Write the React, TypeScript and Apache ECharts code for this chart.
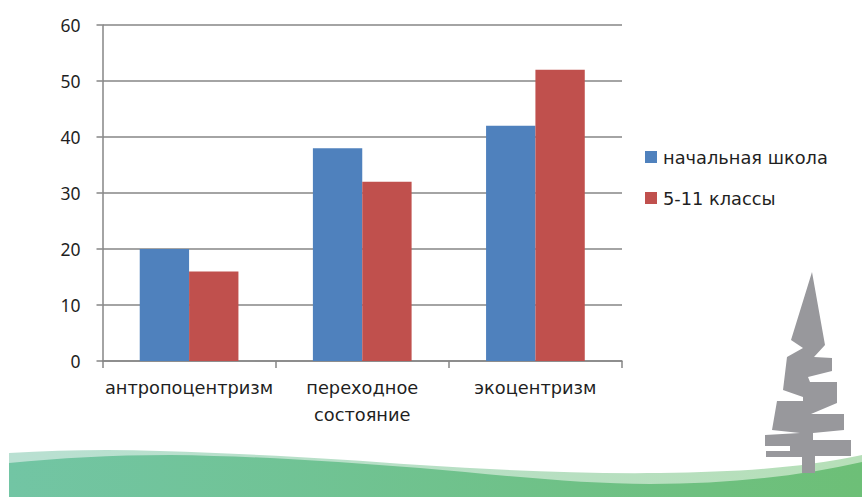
import React, { useEffect, useRef } from "react";
import * as echarts from "echarts";

const categories = ["антропоцентризм", "переходное\nсостояние", "экоцентризм"];
const primarySchool = [20, 38, 42];
const grades511 = [16, 32, 52];
const seriesNames = ["начальная школа", "5-11 классы"];

const FONT = "'DejaVu Sans', sans-serif";
const NUM_FONT = "'Noto Sans', sans-serif";
const TEXT = "#1f1f1f";
const AXIS = "#868686";

const WAVE_LIGHT =
  "M9 453 C60 450 110 449 160 451 C260 454 340 459 420 465 C500 470 580 474 660 473 C740 472 800 468 862 455 L862 497 L9 497 Z";
const WAVE_DARK =
  "M9 463 C60 458 110 455 170 455 C260 456 340 462 420 468 C500 475 580 484 650 484 C730 484 800 476 862 462 L862 497 L9 497 Z";
const TREE =
  "M812 272 L825 345 L814 357 L832 358 L832 371 L808 377 L810 382 L837 382 L837 403 L811 414 L844 414 L844 430 L813 433 L813 440 L851 440 L851 456 L815 456 L815 473 L802 473 L802 457 L766 457 L766 451 L790 451 L790 446 L765 446 L765 435 L800 433 L772 430 L777 401 L803 401 L803 397 L783 390 L787 357 L803 348 L791 340 Z";

echarts.graphic.registerShape("waveLight", echarts.graphic.extendPath(WAVE_LIGHT, {}));
echarts.graphic.registerShape("waveDark", echarts.graphic.extendPath(WAVE_DARK, {}));
echarts.graphic.registerShape("tree", echarts.graphic.extendPath(TREE, {}));

export default function App() {
  const ref = useRef<HTMLDivElement>(null);
  useEffect(() => {
    const chart = echarts.init(ref.current!, undefined, { renderer: "svg" });
    const hGrad = (a: string, b: string) =>
      new echarts.graphic.LinearGradient(0, 0, 1, 0, [
        { offset: 0, color: a },
        { offset: 1, color: b },
      ]);
    chart.setOption({
      animation: false,
      backgroundColor: "#ffffff",
      grid: { left: 102.5, top: 25, width: 519.5, height: 336, containLabel: false },
      legend: {
        orient: "vertical",
        left: 640,
        top: 143,
        itemWidth: 12,
        itemHeight: 12,
        itemGap: 23,
        itemStyle: { borderWidth: 0 },
        icon: "rect",
        textStyle: { fontFamily: FONT, fontSize: 17.8, color: TEXT, padding: [0, 0, 0, 1] },
        data: seriesNames,
      },
      xAxis: {
        type: "category",
        data: categories,
        axisLine: { lineStyle: { color: AXIS, width: 1.5 } },
        axisTick: { show: true, length: 7, lineStyle: { color: AXIS, width: 1.5 } },
        axisLabel: { fontFamily: FONT, fontSize: 17.8, color: TEXT, margin: 13, lineHeight: 27, interval: 0 },
      },
      yAxis: {
        type: "value",
        min: 0,
        max: 60,
        interval: 10,
        axisLine: { show: true, lineStyle: { color: AXIS, width: 1.5 } },
        axisTick: { show: true, length: 6, lineStyle: { color: AXIS, width: 1.5 } },
        splitLine: { lineStyle: { color: AXIS, width: 1.5 } },
        axisLabel: { fontFamily: NUM_FONT, fontSize: 17.5, color: TEXT, margin: 22 },
      },
      series: [
        {
          name: seriesNames[0],
          type: "bar",
          data: primarySchool,
          barGap: "0%",
          barCategoryGap: "43%",
          itemStyle: { color: "#4f81bd" },
        },
        {
          name: seriesNames[1],
          type: "bar",
          data: grades511,
          itemStyle: { color: "#c0504d" },
        },
      ],
      graphic: [
        { type: "waveLight", z: -1, silent: true, style: { fill: hGrad("#b9e0d2", "#b6dfb8") } },
        { type: "waveDark", z: -1, silent: true, style: { fill: hGrad("#72c5a4", "#6dbf77") } },
        { type: "tree", z: 0, silent: true, style: { fill: "#98989c" } },
      ],
    });
    return () => chart.dispose();
  }, []);
  return (
    <div
      ref={ref}
      style={{ position: "absolute", left: 0, top: 0, width: 862, height: 497 }}
    />
  );
}
